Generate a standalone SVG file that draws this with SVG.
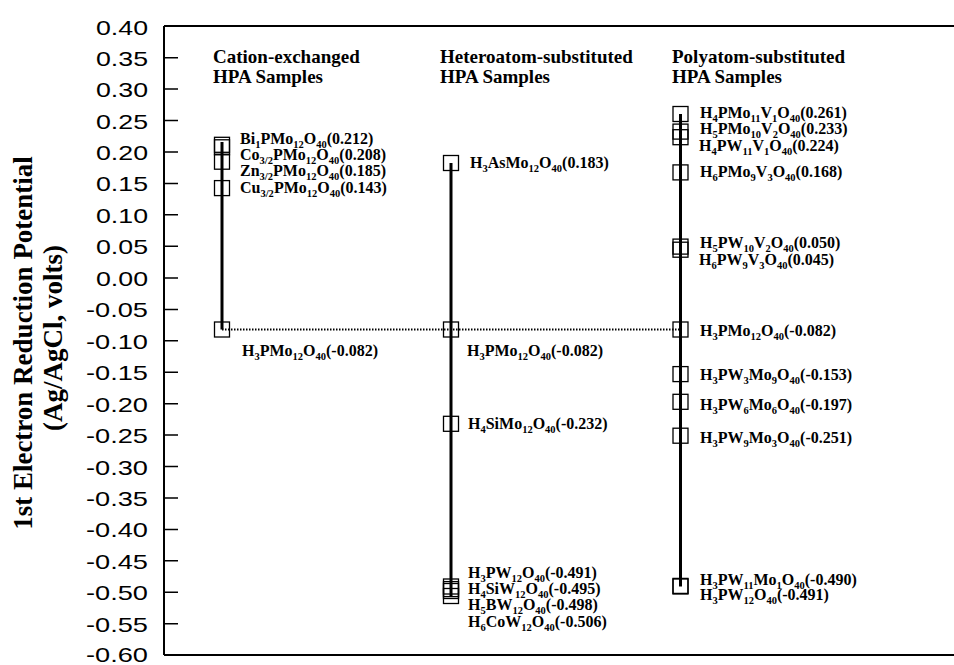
<svg xmlns="http://www.w3.org/2000/svg" width="954" height="665" viewBox="0 0 954 665">
<style>
.tick{font-family:"Liberation Sans",Arial,sans-serif;font-size:21px;fill:#000;text-anchor:end}
.ylab{font-family:"Liberation Serif","Times New Roman",serif;font-size:27px;font-weight:bold;fill:#000;text-anchor:middle}
.hdr{font-family:"Liberation Serif","Times New Roman",serif;font-size:19px;font-weight:bold;fill:#000}
.lbl{font-family:"Liberation Serif","Times New Roman",serif;font-size:16px;font-weight:bold;fill:#000}
.s{font-size:10.5px}
.box{fill:none;stroke:#000;stroke-width:1.3}
.vl{stroke:#000;stroke-width:3;fill:none}
.ax{stroke:#000;stroke-width:2;fill:none}
.tk{stroke:#000;stroke-width:1.5}
.dot{stroke:#000;stroke-width:2;stroke-dasharray:1.5 1.5;fill:none}
</style>
<rect width="954" height="665" fill="#fff"/>
<g id="axes">
<path class="ax" d="M164,26 V655 M164,26 H954 M164,655 H954"/>
<path class="tk" d="M164,57.7H178 M164,89.1H178 M164,120.6H178 M164,152H178 M164,183.4H178 M164,214.8H178 M164,246.3H178 M164,278H178 M164,309.4H178 M164,340.8H178 M164,372.3H178 M164,403.7H178 M164,435.1H178 M164,466.5H178 M164,498H178 M164,529.4H178 M164,560.8H178 M164,592.2H178 M164,623.7H178"/>
<text class="tick" x="148" y="34.5" textLength="52" lengthAdjust="spacingAndGlyphs">0.40</text>
<text class="tick" x="148" y="65.7" textLength="52" lengthAdjust="spacingAndGlyphs">0.35</text>
<text class="tick" x="148" y="97.1" textLength="52" lengthAdjust="spacingAndGlyphs">0.30</text>
<text class="tick" x="148" y="128.6" textLength="52" lengthAdjust="spacingAndGlyphs">0.25</text>
<text class="tick" x="148" y="160" textLength="52" lengthAdjust="spacingAndGlyphs">0.20</text>
<text class="tick" x="148" y="191.4" textLength="52" lengthAdjust="spacingAndGlyphs">0.15</text>
<text class="tick" x="148" y="222.8" textLength="52" lengthAdjust="spacingAndGlyphs">0.10</text>
<text class="tick" x="148" y="254.3" textLength="52" lengthAdjust="spacingAndGlyphs">0.05</text>
<text class="tick" x="148" y="286" textLength="52" lengthAdjust="spacingAndGlyphs">0.00</text>
<text class="tick" x="148" y="317.4" textLength="62" lengthAdjust="spacingAndGlyphs">-0.05</text>
<text class="tick" x="148" y="348.8" textLength="62" lengthAdjust="spacingAndGlyphs">-0.10</text>
<text class="tick" x="148" y="380.3" textLength="62" lengthAdjust="spacingAndGlyphs">-0.15</text>
<text class="tick" x="148" y="411.7" textLength="62" lengthAdjust="spacingAndGlyphs">-0.20</text>
<text class="tick" x="148" y="443.1" textLength="62" lengthAdjust="spacingAndGlyphs">-0.25</text>
<text class="tick" x="148" y="474.5" textLength="62" lengthAdjust="spacingAndGlyphs">-0.30</text>
<text class="tick" x="148" y="506" textLength="62" lengthAdjust="spacingAndGlyphs">-0.35</text>
<text class="tick" x="148" y="537.4" textLength="62" lengthAdjust="spacingAndGlyphs">-0.40</text>
<text class="tick" x="148" y="568.8" textLength="62" lengthAdjust="spacingAndGlyphs">-0.45</text>
<text class="tick" x="148" y="600.2" textLength="62" lengthAdjust="spacingAndGlyphs">-0.50</text>
<text class="tick" x="148" y="631.7" textLength="62" lengthAdjust="spacingAndGlyphs">-0.55</text>
<text class="tick" x="148" y="661.5" textLength="62" lengthAdjust="spacingAndGlyphs">-0.60</text>
<text class="ylab" transform="translate(32,343) rotate(-90)">1st Electron Reduction Potential</text>
<text class="ylab" transform="translate(62,338) rotate(-90)">(Ag/AgCl, volts)</text>
</g>
<g id="headers">
<text class="hdr" x="213" y="63">Cation-exchanged</text>
<text class="hdr" x="213" y="83">HPA Samples</text>
<text class="hdr" x="440" y="63">Heteroatom-substituted</text>
<text class="hdr" x="440" y="83">HPA Samples</text>
<text class="hdr" x="672" y="63">Polyatom-substituted</text>
<text class="hdr" x="672" y="83">HPA Samples</text>
</g>
<g id="connectors">
<line class="vl" x1="222" y1="142" x2="222" y2="329.5"/>
<line class="vl" x1="451" y1="163" x2="451" y2="596"/>
<line class="vl" x1="680.5" y1="114" x2="680.5" y2="586.5"/>
<line class="dot" x1="222" y1="329.5" x2="680.5" y2="329.5"/>
</g>
<g id="cation-exchanged">
<rect class="box" x="214.5" y="137.3" width="15" height="15"/>
<rect class="box" x="214.5" y="139.8" width="15" height="15"/>
<rect class="box" x="214.5" y="154.2" width="15" height="15"/>
<rect class="box" x="214.5" y="180.6" width="15" height="15"/>
<rect class="box" x="214.5" y="322" width="15" height="15"/>
<text class="lbl" x="240" y="144">Bi<tspan class="s" dy="3.5">1</tspan><tspan dy="-3.5">PMo</tspan><tspan class="s" dy="3.5">12</tspan><tspan dy="-3.5">O</tspan><tspan class="s" dy="3.5">40</tspan><tspan dy="-3.5">(0.212)</tspan></text>
<text class="lbl" x="240" y="160">Co<tspan class="s" dy="3.5">3/2</tspan><tspan dy="-3.5">PMo</tspan><tspan class="s" dy="3.5">12</tspan><tspan dy="-3.5">O</tspan><tspan class="s" dy="3.5">40</tspan><tspan dy="-3.5">(0.208)</tspan></text>
<text class="lbl" x="240" y="176">Zn<tspan class="s" dy="3.5">3/2</tspan><tspan dy="-3.5">PMo</tspan><tspan class="s" dy="3.5">12</tspan><tspan dy="-3.5">O</tspan><tspan class="s" dy="3.5">40</tspan><tspan dy="-3.5">(0.185)</tspan></text>
<text class="lbl" x="240" y="193">Cu<tspan class="s" dy="3.5">3/2</tspan><tspan dy="-3.5">PMo</tspan><tspan class="s" dy="3.5">12</tspan><tspan dy="-3.5">O</tspan><tspan class="s" dy="3.5">40</tspan><tspan dy="-3.5">(0.143)</tspan></text>
<text class="lbl" x="242" y="356">H<tspan class="s" dy="3.5">3</tspan><tspan dy="-3.5">PMo</tspan><tspan class="s" dy="3.5">12</tspan><tspan dy="-3.5">O</tspan><tspan class="s" dy="3.5">40</tspan><tspan dy="-3.5">(-0.082)</tspan></text>
</g>
<g id="heteroatom-substituted">
<rect class="box" x="443.5" y="155.5" width="15" height="15"/>
<rect class="box" x="443.5" y="322" width="15" height="15"/>
<rect class="box" x="443.5" y="416.3" width="15" height="15"/>
<rect class="box" x="443.5" y="579" width="15" height="15"/>
<rect class="box" x="443.5" y="581.6" width="15" height="15"/>
<rect class="box" x="443.5" y="583.5" width="15" height="15"/>
<rect class="box" x="443.5" y="588.5" width="15" height="15"/>
<text class="lbl" x="470" y="168">H<tspan class="s" dy="3.5">3</tspan><tspan dy="-3.5">AsMo</tspan><tspan class="s" dy="3.5">12</tspan><tspan dy="-3.5">O</tspan><tspan class="s" dy="3.5">40</tspan><tspan dy="-3.5">(0.183)</tspan></text>
<text class="lbl" x="467" y="356">H<tspan class="s" dy="3.5">3</tspan><tspan dy="-3.5">PMo</tspan><tspan class="s" dy="3.5">12</tspan><tspan dy="-3.5">O</tspan><tspan class="s" dy="3.5">40</tspan><tspan dy="-3.5">(-0.082)</tspan></text>
<text class="lbl" x="468" y="429">H<tspan class="s" dy="3.5">4</tspan><tspan dy="-3.5">SiMo</tspan><tspan class="s" dy="3.5">12</tspan><tspan dy="-3.5">O</tspan><tspan class="s" dy="3.5">40</tspan><tspan dy="-3.5">(-0.232)</tspan></text>
<text class="lbl" x="468" y="578">H<tspan class="s" dy="3.5">3</tspan><tspan dy="-3.5">PW</tspan><tspan class="s" dy="3.5">12</tspan><tspan dy="-3.5">O</tspan><tspan class="s" dy="3.5">40</tspan><tspan dy="-3.5">(-0.491)</tspan></text>
<text class="lbl" x="468" y="594">H<tspan class="s" dy="3.5">4</tspan><tspan dy="-3.5">SiW</tspan><tspan class="s" dy="3.5">12</tspan><tspan dy="-3.5">O</tspan><tspan class="s" dy="3.5">40</tspan><tspan dy="-3.5">(-0.495)</tspan></text>
<text class="lbl" x="468" y="610">H<tspan class="s" dy="3.5">5</tspan><tspan dy="-3.5">BW</tspan><tspan class="s" dy="3.5">12</tspan><tspan dy="-3.5">O</tspan><tspan class="s" dy="3.5">40</tspan><tspan dy="-3.5">(-0.498)</tspan></text>
<text class="lbl" x="468" y="627">H<tspan class="s" dy="3.5">6</tspan><tspan dy="-3.5">CoW</tspan><tspan class="s" dy="3.5">12</tspan><tspan dy="-3.5">O</tspan><tspan class="s" dy="3.5">40</tspan><tspan dy="-3.5">(-0.506)</tspan></text>
</g>
<g id="polyatom-substituted">
<rect class="box" x="673" y="106.5" width="15" height="15"/>
<rect class="box" x="673" y="124.1" width="15" height="15"/>
<rect class="box" x="673" y="129.7" width="15" height="15"/>
<rect class="box" x="673" y="164.9" width="15" height="15"/>
<rect class="box" x="673" y="239.1" width="15" height="15"/>
<rect class="box" x="673" y="242.2" width="15" height="15"/>
<rect class="box" x="673" y="322" width="15" height="15"/>
<rect class="box" x="673" y="366.6" width="15" height="15"/>
<rect class="box" x="673" y="394.3" width="15" height="15"/>
<rect class="box" x="673" y="428.2" width="15" height="15"/>
<rect class="box" x="673" y="578.4" width="15" height="15"/>
<rect class="box" x="673" y="579" width="15" height="15"/>
<text class="lbl" x="700" y="118">H<tspan class="s" dy="3.5">4</tspan><tspan dy="-3.5">PMo</tspan><tspan class="s" dy="3.5">11</tspan><tspan dy="-3.5">V</tspan><tspan class="s" dy="3.5">1</tspan><tspan dy="-3.5">O</tspan><tspan class="s" dy="3.5">40</tspan><tspan dy="-3.5">(0.261)</tspan></text>
<text class="lbl" x="700" y="134">H<tspan class="s" dy="3.5">5</tspan><tspan dy="-3.5">PMo</tspan><tspan class="s" dy="3.5">10</tspan><tspan dy="-3.5">V</tspan><tspan class="s" dy="3.5">2</tspan><tspan dy="-3.5">O</tspan><tspan class="s" dy="3.5">40</tspan><tspan dy="-3.5">(0.233)</tspan></text>
<text class="lbl" x="699" y="151">H<tspan class="s" dy="3.5">4</tspan><tspan dy="-3.5">PW</tspan><tspan class="s" dy="3.5">11</tspan><tspan dy="-3.5">V</tspan><tspan class="s" dy="3.5">1</tspan><tspan dy="-3.5">O</tspan><tspan class="s" dy="3.5">40</tspan><tspan dy="-3.5">(0.224)</tspan></text>
<text class="lbl" x="700" y="177">H<tspan class="s" dy="3.5">6</tspan><tspan dy="-3.5">PMo</tspan><tspan class="s" dy="3.5">9</tspan><tspan dy="-3.5">V</tspan><tspan class="s" dy="3.5">3</tspan><tspan dy="-3.5">O</tspan><tspan class="s" dy="3.5">40</tspan><tspan dy="-3.5">(0.168)</tspan></text>
<text class="lbl" x="700" y="248">H<tspan class="s" dy="3.5">5</tspan><tspan dy="-3.5">PW</tspan><tspan class="s" dy="3.5">10</tspan><tspan dy="-3.5">V</tspan><tspan class="s" dy="3.5">2</tspan><tspan dy="-3.5">O</tspan><tspan class="s" dy="3.5">40</tspan><tspan dy="-3.5">(0.050)</tspan></text>
<text class="lbl" x="699" y="265">H<tspan class="s" dy="3.5">6</tspan><tspan dy="-3.5">PW</tspan><tspan class="s" dy="3.5">9</tspan><tspan dy="-3.5">V</tspan><tspan class="s" dy="3.5">3</tspan><tspan dy="-3.5">O</tspan><tspan class="s" dy="3.5">40</tspan><tspan dy="-3.5">(0.045)</tspan></text>
<text class="lbl" x="700" y="336">H<tspan class="s" dy="3.5">3</tspan><tspan dy="-3.5">PMo</tspan><tspan class="s" dy="3.5">12</tspan><tspan dy="-3.5">O</tspan><tspan class="s" dy="3.5">40</tspan><tspan dy="-3.5">(-0.082)</tspan></text>
<text class="lbl" x="700" y="380">H<tspan class="s" dy="3.5">3</tspan><tspan dy="-3.5">PW</tspan><tspan class="s" dy="3.5">3</tspan><tspan dy="-3.5">Mo</tspan><tspan class="s" dy="3.5">9</tspan><tspan dy="-3.5">O</tspan><tspan class="s" dy="3.5">40</tspan><tspan dy="-3.5">(-0.153)</tspan></text>
<text class="lbl" x="700" y="410">H<tspan class="s" dy="3.5">3</tspan><tspan dy="-3.5">PW</tspan><tspan class="s" dy="3.5">6</tspan><tspan dy="-3.5">Mo</tspan><tspan class="s" dy="3.5">6</tspan><tspan dy="-3.5">O</tspan><tspan class="s" dy="3.5">40</tspan><tspan dy="-3.5">(-0.197)</tspan></text>
<text class="lbl" x="700" y="443">H<tspan class="s" dy="3.5">3</tspan><tspan dy="-3.5">PW</tspan><tspan class="s" dy="3.5">9</tspan><tspan dy="-3.5">Mo</tspan><tspan class="s" dy="3.5">3</tspan><tspan dy="-3.5">O</tspan><tspan class="s" dy="3.5">40</tspan><tspan dy="-3.5">(-0.251)</tspan></text>
<text class="lbl" x="700" y="585">H<tspan class="s" dy="3.5">3</tspan><tspan dy="-3.5">PW</tspan><tspan class="s" dy="3.5">11</tspan><tspan dy="-3.5">Mo</tspan><tspan class="s" dy="3.5">1</tspan><tspan dy="-3.5">O</tspan><tspan class="s" dy="3.5">40</tspan><tspan dy="-3.5">(-0.490)</tspan></text>
<text class="lbl" x="700" y="600">H<tspan class="s" dy="3.5">3</tspan><tspan dy="-3.5">PW</tspan><tspan class="s" dy="3.5">12</tspan><tspan dy="-3.5">O</tspan><tspan class="s" dy="3.5">40</tspan><tspan dy="-3.5">(-0.491)</tspan></text>
</g>
</svg>
